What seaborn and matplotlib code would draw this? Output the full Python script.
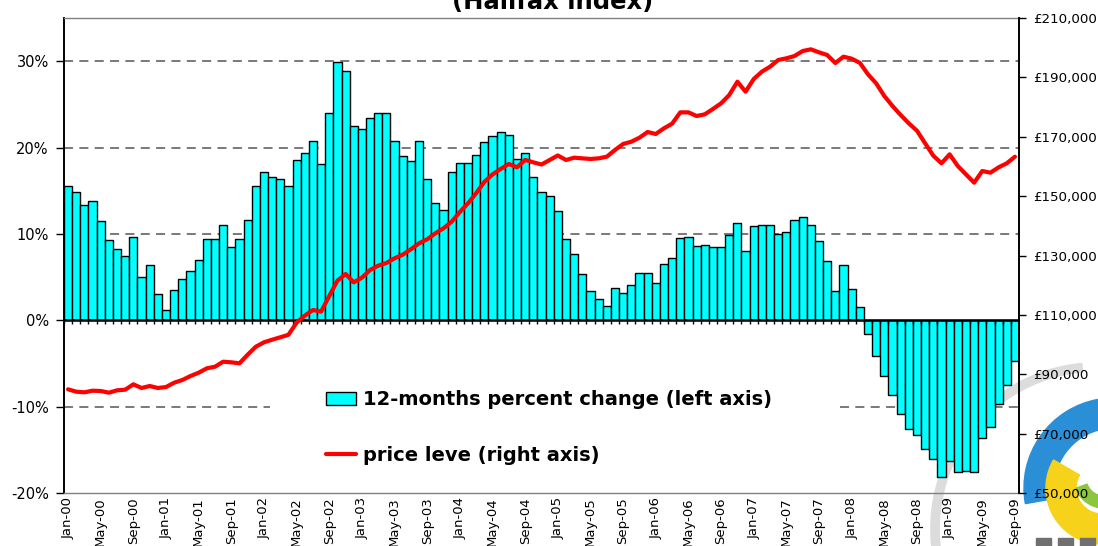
import numpy as np
import pandas as pd
import matplotlib
matplotlib.use("Agg")
import matplotlib.pyplot as plt
import seaborn as sns
from matplotlib.patches import Patch, Wedge, Arc, Rectangle
from matplotlib.lines import Line2D
from matplotlib.ticker import FuncFormatter

# ---------------- data ----------------
months = pd.date_range("2000-01-01", "2009-09-01", freq="MS").strftime("%b-%y").tolist()

pct_change = [
    15.6, 14.8, 13.3, 13.8, 11.5, 9.25, 8.3, 7.4, 9.6, 5.05, 6.4, 3.1,
    1.2, 3.5, 4.8, 5.7, 7.0, 9.4, 9.4, 11.0, 8.5, 9.4, 11.6, 15.5,
    17.2, 16.6, 16.4, 15.5, 18.6, 19.4, 20.7, 18.1, 24.0, 29.9, 28.9, 22.5,
    22.1, 23.4, 24.0, 24.0, 20.8, 19.0, 18.4, 20.8, 16.4, 13.6, 12.8, 17.2,
    18.2, 18.2, 19.1, 20.6, 21.3, 21.8, 21.4, 18.7, 19.4, 16.6, 14.8, 14.4,
    12.6, 9.4, 7.7, 5.4, 3.35, 2.5, 1.7, 3.7, 3.2, 4.1, 5.5, 5.5,
    4.3, 6.5, 7.2, 9.5, 9.7, 8.6, 8.7, 8.5, 8.5, 9.9, 11.3, 8.0,
    10.9, 11.0, 11.0, 10.0, 10.2, 11.6, 12.0, 11.0, 9.2, 6.9, 3.4, 6.4,
    3.6, 1.5, -1.6, -4.1, -6.5, -8.6, -10.85, -12.6, -13.3, -14.9, -16.1, -18.2,
    -16.3, -17.6, -17.4, -17.6, -13.6, -12.3, -9.7, -7.5, -4.7,
]

price_level = [
    84930, 84130, 83910, 84460, 84360, 83790, 84590, 84800, 86610, 85370, 86040, 85370,
    85700, 87160, 88060, 89410, 90520, 92000, 92540, 94230, 94020, 93690, 96590, 99280,
    100760, 101640, 102450, 103300, 107400, 109730, 111640, 111080, 116360, 121510, 123770, 120960,
    122520, 125110, 126570, 127470, 129050, 130280, 132080, 134100, 135450, 137470, 139160, 141390,
    144650, 147570, 151000, 154800, 157300, 159140, 160820, 159700, 162200, 161380, 160650, 162170,
    163700, 162170, 162950, 162730, 162510, 162730, 163280, 165540, 167560, 168330, 169680, 171600,
    170930, 172840, 174400, 178220, 178220, 176990, 177550, 179350, 181260, 184060, 188550, 185180,
    189450, 191920, 193600, 195850, 196420, 197200, 198880, 199450, 198430, 197540, 194840, 196970,
    196300, 194900, 191030, 187990, 183730, 180360, 177330, 174520, 172040, 167790, 163630, 161050,
    164080, 160150, 157340, 154530, 158460, 157900, 159700, 161050, 163280,
]

left_ticks = [-20, -10, 0, 10, 20, 30]
right_ticks = [50000, 70000, 90000, 110000, 130000, 150000, 170000, 190000, 210000]
title_text = "(Halifax index)"
bar_label = "12-months percent change (left axis)"
line_label = "price leve (right axis)"

df = pd.DataFrame({"month": months, "pct": pct_change, "price": price_level,
                   "idx": np.arange(len(months))})
n = len(months)

# ---------------- style ----------------
sns.set_theme(style="white")
plt.rcParams["font.family"] = ["DejaVu Sans"]
plt.rcParams["text.color"] = "black"

W, H = 1098, 546
fig = plt.figure(figsize=(W / 100, H / 100), dpi=100)
fig.patch.set_facecolor("white")

# background decoration (logo), behind axes and labels
fig.add_artist(Arc((1097, H - 529), 324, 324, theta1=95, theta2=200,
                   transform=None, color="#dcdcdc", lw=7, zorder=-2))
fig.add_artist(Wedge((1114, H - 488), 90, 100, 190, width=30, transform=None,
                     color="#2b8fd8", zorder=-1))
fig.add_artist(Wedge((1102, H - 488), 56, 150, 330, width=30, transform=None,
                     color="#f6d21a", zorder=-1))
fig.add_artist(Wedge((1104, H - 478), 30, 200, 300, width=12, transform=None,
                     color="#8cc63f", zorder=-1))
for x0 in [1036, 1058, 1080]:
    fig.add_artist(Rectangle((x0, 0), 15, 8, transform=None, color="#707070", zorder=-1))

ax = fig.add_axes([64 / W, 1 - 493 / H, 955 / W, 475 / H])
ax.set_facecolor("none")

sns.barplot(data=df, x="month", y="pct", color="#00FFFF", saturation=1,
            edgecolor="black", linewidth=1.0, width=1.0, ax=ax, zorder=2)

ax.set_ylim(-20, 35)
ax.set_xlim(-0.5, n - 0.5)
ax.set_yticks(left_ticks)
ax.yaxis.set_major_formatter(FuncFormatter(lambda v, p: f"{v:.0f}%"))
ax.set_xticks(range(0, n, 4))
ax.set_xticklabels(months[::4], rotation=90, va="top", ha="center")
ax.set_xlabel("")
ax.set_ylabel("")
ax.tick_params(axis="x", length=0, labelsize=9.5, pad=3, colors="black")
ax.tick_params(axis="y", direction="out", length=6, width=1, pad=5,
               labelsize=10.5, colors="black", left=True)

# grid lines (dashed)
dash = (0, (5, 3.5))
for v in [10, 20, 30]:
    ax.axhline(v, color="#6e6e6e", ls=dash, lw=1.3, zorder=0)
ax.axhline(-10, xmin=0, xmax=(270 - 64) / 955, color="#6e6e6e", ls=dash, lw=1.3, zorder=0)
ax.axhline(-10, xmin=(840 - 64) / 955, xmax=1, color="#6e6e6e", ls=dash, lw=1.3, zorder=0)

# category axis at zero with small ticks
ax.axhline(0, color="black", lw=1.8, zorder=3)
ax.vlines(np.arange(n + 1) - 0.5, -0.45, 0, color="black", lw=1.0, zorder=3)

for s in ["top", "bottom"]:
    ax.spines[s].set_color("#808080")
    ax.spines[s].set_linewidth(1.0)
ax.spines["left"].set_color("black")
ax.spines["left"].set_linewidth(1.4)
ax.spines["right"].set_visible(False)

# price line on right axis
ax2 = ax.twinx()
sns.lineplot(data=df, x="idx", y="price", color="#FF0000", lw=3.0, ax=ax2, zorder=4)
ax2.set_ylim(50000, 210000)
ax2.set_yticks(right_ticks)
ax2.yaxis.set_major_formatter(FuncFormatter(lambda v, p: f"£{int(v):,}"))
ax2.set_xlim(-0.5, n - 0.5)
ax2.set_xlabel("")
ax2.set_ylabel("")
ax2.tick_params(axis="y", direction="out", length=5, width=1, pad=5,
                labelsize=9.6, colors="black", right=True)
for s in ["top", "bottom", "left"]:
    ax2.spines[s].set_visible(False)
ax2.spines["right"].set_color("black")
ax2.spines["right"].set_linewidth(1.4)
ax.set_xlim(-0.5, n - 0.5)

# legend
handles = [Patch(facecolor="#00FFFF", edgecolor="black", linewidth=1.0),
           Line2D([], [], color="#FF0000", lw=3.0)]
ax2.legend(handles, [bar_label, line_label], loc="upper left",
           bbox_to_anchor=(326 / W, 1 - 390 / H), bbox_transform=fig.transFigure,
           frameon=False, prop={"weight": "bold", "size": 14}, labelcolor="black",
           handlelength=1.55, handleheight=0.65, handletextpad=0.35,
           labelspacing=1.9, borderpad=0, borderaxespad=0)

# title (top line cut off in the original)
fig.text(553 / W, 1 - 8.5 / H, title_text, ha="center", va="baseline",
         fontsize=17.5, fontweight="bold", color="black")

fig.savefig("out.png", dpi=100)
